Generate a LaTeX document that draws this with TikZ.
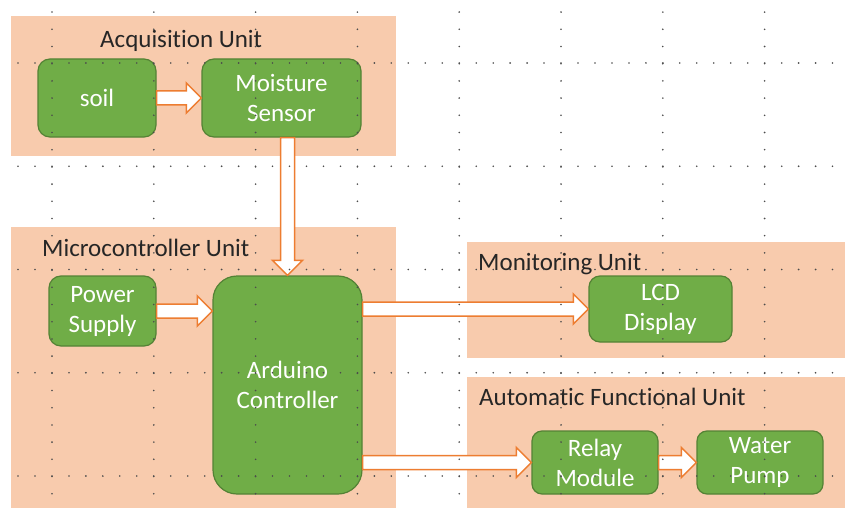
\documentclass[tikz,border=0pt]{standalone}
\usepackage{fontspec}
\setmainfont{Carlito}[Ligatures=NoCommon]
\usetikzlibrary{calc}

\definecolor{unitpeach}{HTML}{F8CBAD}
\definecolor{blockgreen}{HTML}{70AD47}
\definecolor{blockedge}{HTML}{548235}
\definecolor{flowline}{HTML}{ED7D31}

\begin{document}
\begin{tikzpicture}[x=1pt, y=-1pt,
        unit/.style={
            % The filling
            fill=unitpeach
        },
        unitlabel/.style={
            anchor=base west,
            inner sep=0pt,
            text=black!85,
            % Font
            font=\fontsize{25}{30}\selectfont
        },
        block/.style={
            % The shape:
            rectangle,
            rounded corners=12pt,
            % The border
            line width=1.2pt,
            draw=blockedge,
            % The filling
            fill=blockgreen,
            % Font
            text=white,
            align=center,
            font=\fontsize{25}{30}\selectfont
        },
        flow/.style={
            draw=flowline,
            fill=white,
            line width=1.5pt,
            line join=miter,
            to path={
                let \p1=(\tikztostart), \p2=(\tikztotarget),
                    \n1={veclen(\x2-\x1,\y2-\y1)},
                    \n2={atan2(\y2-\y1,\x2-\x1)} in
                ([shift={(\p1)},rotate=\n2]0pt,7pt)
                -- ([shift={(\p1)},rotate=\n2]\n1-15pt,7pt)
                -- ([shift={(\p1)},rotate=\n2]\n1-15pt,15pt)
                -- (\p2)
                -- ([shift={(\p1)},rotate=\n2]\n1-15pt,-15pt)
                -- ([shift={(\p1)},rotate=\n2]\n1-15pt,-7pt)
                -- ([shift={(\p1)},rotate=\n2]0pt,-7pt)
                -- cycle
            }
        },
        griddot/.style={
            fill=black!70
        }]

        \useasboundingbox (0,0) rectangle (845,508);

        % units
        \fill[unit] (11,16) rectangle (396,156);
        \fill[unit] (11,227) rectangle (396,508);
        \fill[unit] (467,242) rectangle (845,358);
        \fill[unit] (467,377) rectangle (845,508);

        \node[unitlabel] (acqlabel) at (100,48) {Acquisition Unit};
        \node[unitlabel] (mculabel) at (42,256) {Microcontroller Unit};
        \node[unitlabel] (monlabel) at (478,270) {Monitoring Unit};
        \node[unitlabel] (autolabel) at (479,405) {Automatic Functional Unit};

        % blocks
        \node[block, minimum width=118pt, minimum height=78pt] (soil) at (97,98) {soil};
        \node[block, minimum width=159pt, minimum height=78pt] (sensor) at (281.5,98) {Moisture\\Sensor};
        \node[block, minimum width=107pt, minimum height=70pt] (power) at (102.5,311) {Power\\Supply};
        \node[block, rounded corners=24pt, minimum width=149pt, minimum height=218pt] (arduino) at (287.5,385) {Arduino\\Controller};
        \node[block, rounded corners=11pt, minimum width=143pt, minimum height=66pt] (lcd) at (660.5,309) {LCD\\Display};
        \node[block, rounded corners=10pt, minimum width=126pt, minimum height=63pt] (relay) at (595,462.5) {Relay\\Module};
        \node[block, rounded corners=10pt, minimum width=126pt, minimum height=63pt] (pump) at (760,462.5) {Water\\Pump};

        % arrows
        \draw[flow] (soil.east) to (sensor.west);
        \draw[flow] (sensor.south -| arduino.north) to (arduino.north);
        \draw[flow] (power.east) to (power.east -| arduino.west);
        \draw[flow] (arduino.east |- lcd.west) to (lcd.west);
        \draw[flow] (arduino.east |- relay.west) to (relay.west);
        \draw[flow] (relay.east) to (pump.west);

        % grid dots
        \foreach \gx in {0,...,7}
        {
            \foreach \gy in {0,...,28}
                \fill[griddot] ({52+101.8*\gx},{12.1+17.2*\gy}) circle (0.9pt);
        }
        \foreach \gy in {0,...,4}
        {
            \foreach \gx in {0,...,48}
                \fill[griddot] ({18+16.97*\gx},{63+103.25*\gy}) circle (0.9pt);
        }

    \end{tikzpicture}
\end{document}
